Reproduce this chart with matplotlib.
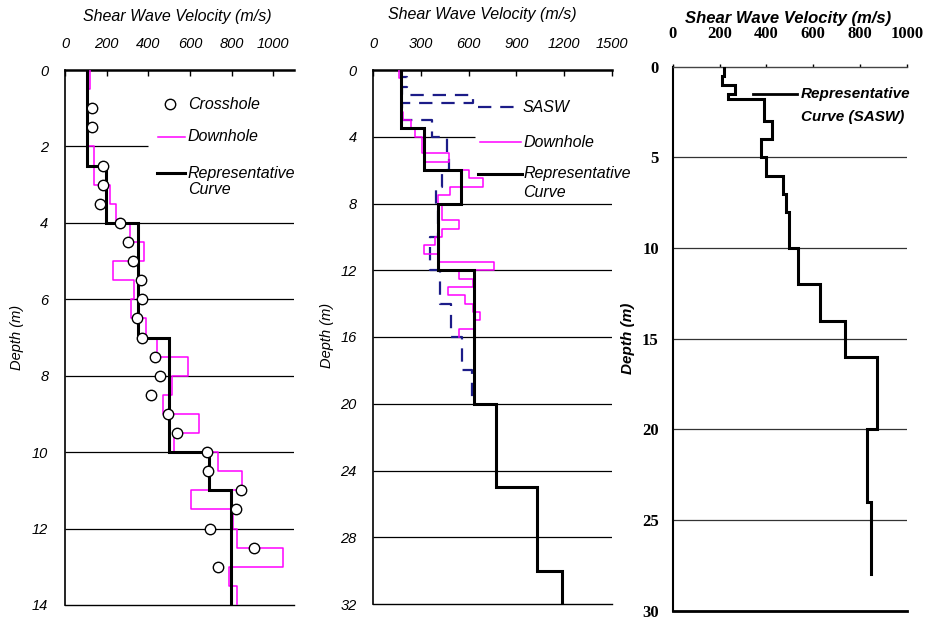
import matplotlib
matplotlib.use("Agg")
import matplotlib.pyplot as plt

plt.rcParams['font.family'] = ['Liberation Sans', 'DejaVu Sans']

# ---------------- data ----------------
# Site 1: crosshole / downhole / representative profile (depth in m, Vs in m/s)
p1_rep_depths = [0, 2.5, 4, 7, 10, 11, 14]
p1_rep_vs = [105, 195, 350, 500, 690, 795]

p1_down_depths = [0, 0.5, 2, 3, 3.5, 4, 4.5, 5, 5.5, 6, 6.5, 7, 7.5, 8, 8.5,
                  9, 9.5, 10, 10.5, 11, 11.5, 12, 12.5, 13, 13.5, 14]
p1_down_vs = [120, 105, 140, 216, 245, 310, 380, 230, 330, 315, 390, 443, 592,
              512, 472, 643, 523, 736, 851, 603, 808, 827, 1048, 785, 824]

p1_cross_depth = [1, 1.5, 2.5, 3, 3.5, 4, 4.5, 5, 5.5, 6, 6.5, 7, 7.5, 8, 8.5,
                  9, 9.5, 10, 10.5, 11, 11.5, 12, 12.5, 13]
p1_cross_vs = [128, 128, 181, 184, 168, 264, 304, 325, 363, 368, 347, 368, 432,
               456, 411, 496, 536, 683, 688, 843, 819, 696, 909, 736]

# Site 2: SASW / downhole / representative profile
p2_rep_depths = [0, 3.5, 6, 8, 12, 20, 25, 30, 32]
p2_rep_vs = [172, 320, 552, 409, 636, 772, 1028, 1190]

p2_down_depths = [0, 0.5, 2.5, 3, 3.5, 4, 5, 5.5, 6, 6.5, 7, 7.5, 8, 9, 9.5,
                  10, 10.5, 11, 11.5, 12, 12.5, 13, 13.5, 14, 14.5, 15, 15.5, 16]
p2_down_vs = [164, 172, 189, 235, 262, 304, 476, 325, 604, 692, 483, 409, 430,
              541, 430, 388, 319, 409, 760, 541, 629, 472, 577, 629, 671, 640, 541]

p2_sasw_depths = [0, 0.4, 1, 1.5, 2, 3, 4, 5, 6, 7, 8, 10, 12, 14, 16, 18, 20]
p2_sasw_vs = [172, 214, 180, 630, 180, 367, 462, 476, 430, 393, 409, 355, 420,
              487, 556, 623]

# Site 3: SASW representative profile
p3_rep_depths = [0, 0.5, 1.0, 1.5, 1.8, 3, 4, 5, 6, 7, 8, 10, 12, 14, 16, 20, 24, 28]
p3_rep_vs = [218, 209, 266, 238, 390, 426, 376, 399, 473, 483, 497, 537, 630,
             736, 872, 829, 846]

title_text = "Shear Wave Velocity (m/s)"
depth_label = "Depth (m)"

MAGENTA = "#ff00ff"
NAVY = "#1c1c88"

# ---------------- helpers ----------------
W, H = 928, 621
fig = plt.figure(figsize=(W / 100, H / 100), dpi=100)


def axes_px(left, right, top, bottom):
    return fig.add_axes([left / W, 1 - bottom / H, (right - left) / W, (bottom - top) / H])


def layered(depths, vs):
    """Turn layer boundaries and layer velocities into a step outline."""
    xs, ys = [], []
    for i, v in enumerate(vs):
        xs += [v, v]
        ys += [depths[i], depths[i + 1]]
    return xs, ys


def base_axes(ax, xmax, xticks, dmax, yticks, label_font, top_dir, top_len, xpad, ypad):
    ax.set_xlim(0, xmax)
    ax.set_ylim(dmax, 0)
    ax.xaxis.tick_top()
    ax.set_xticks(xticks)
    ax.set_yticks(yticks)
    ax.set_xticklabels([str(t) for t in xticks], **label_font)
    ax.set_yticklabels([str(t) for t in yticks], **label_font)
    ax.tick_params(axis='x', direction=top_dir, length=top_len, width=1, pad=xpad,
                   colors='black')
    ax.tick_params(axis='y', length=0, pad=ypad)
    ax.spines['right'].set_visible(False)
    for s in ax.spines.values():
        s.set_color('black')
    ax.patch.set_alpha(0)


ital = dict(fontsize=10.5, style='italic', family='Liberation Sans')

# ---------------- panel 1 ----------------
ax1 = axes_px(65, 294.2, 70, 605)
base_axes(ax1, 1100, [0, 200, 400, 600, 800, 1000], 14, list(range(0, 15, 2)),
          ital, 'in', 4, 14, 12)
ax1.spines['top'].set_linewidth(1.8)
ax1.spines['left'].set_linewidth(1.2)
ax1.spines['bottom'].set_linewidth(1.0)
ax1.hlines([4, 6, 8, 10, 12], 0, 1100, color='black', lw=0.9)
ax1.hlines(2, 0, 400, color='black', lw=0.9)

x, y = layered(p1_down_depths, p1_down_vs)
ax1.plot(x, y, color=MAGENTA, lw=1.1, zorder=3)
x, y = layered(p1_rep_depths, p1_rep_vs)
ax1.plot(x, y, color='black', lw=2.2, zorder=4, solid_joinstyle='miter')
ax1.plot(p1_cross_vs, p1_cross_depth, 'o', ms=7.5, mfc='white', mec='black', mew=1.0,
         zorder=5, ls='none')

leg = dict(fontsize=11.5, style='italic', va='center', ha='left')
ax1.plot([504], [0.89], 'o', ms=7.5, mfc='white', mec='black', mew=1.0, clip_on=False)
ax1.text(590, 0.89, "Crosshole", **leg)
ax1.plot([446, 576], [1.75, 1.75], color=MAGENTA, lw=1.1)
ax1.text(590, 1.75, "Downhole", **leg)
ax1.plot([442, 576], [2.70, 2.70], color='black', lw=2.2)
ax1.text(590, 2.70, "Representative", **leg)
ax1.text(590, 3.14, "Curve", **leg)

fig.text(177 / W, 1 - 17 / H, title_text, fontsize=11.5, style='italic', ha='center', va='center')
fig.text(17 / W, 1 - 337 / H, depth_label, fontsize=10.5, style='italic', rotation=90,
         ha='center', va='center')

# ---------------- panel 2 ----------------
ax2 = axes_px(373.3, 611.7, 70, 604)
base_axes(ax2, 1500, [0, 300, 600, 900, 1200, 1500], 32, list(range(0, 33, 4)),
          ital, 'in', 4, 14, 12)
ax2.spines['top'].set_linewidth(1.8)
ax2.spines['left'].set_linewidth(1.2)
ax2.spines['bottom'].set_linewidth(1.0)
ax2.hlines([8, 12, 16, 20, 24, 28], 0, 1500, color='black', lw=0.9)
ax2.hlines(4, 0, 640, color='black', lw=0.9)

x, y = layered(p2_sasw_depths, p2_sasw_vs)
ax2.plot(x, y, color=NAVY, lw=1.6, ls=(0, (6, 4)), zorder=3)
x, y = layered(p2_down_depths, p2_down_vs)
ax2.plot(x, y, color=MAGENTA, lw=1.1, zorder=3)
x, y = layered(p2_rep_depths, p2_rep_vs)
ax2.plot(x, y, color='black', lw=2.2, zorder=4, solid_joinstyle='miter')

ax2.plot([659, 891], [2.23, 2.23], color=NAVY, lw=1.6, ls=(0, (6, 4)))
ax2.text(942, 2.23, "SASW", **leg)
ax2.plot([671, 929], [4.33, 4.33], color=MAGENTA, lw=1.1)
ax2.text(942, 4.33, "Downhole", **leg)
ax2.plot([659, 936], [6.23, 6.23], color='black', lw=2.2)
ax2.text(942, 6.23, "Representative", **leg)
ax2.text(942, 7.37, "Curve", **leg)

fig.text(482 / W, 1 - 15 / H, title_text, fontsize=11.5, style='italic', ha='center', va='center')
fig.text(327 / W, 1 - 335 / H, depth_label, fontsize=10.5, style='italic', rotation=90,
         ha='center', va='center')

# ---------------- panel 3 ----------------
bold_serif = dict(fontsize=12, weight='bold', family='Liberation Serif')
ax3 = axes_px(672.7, 906.7, 66.7, 610.7)
base_axes(ax3, 1000, [0, 200, 400, 600, 800, 1000], 30, list(range(0, 31, 5)),
          bold_serif, 'out', 2.5, 15, 10)
ax3.spines['top'].set_linewidth(1.0)
ax3.spines['top'].set_color('#444444')
ax3.spines['left'].set_linewidth(1.5)
ax3.spines['bottom'].set_linewidth(2.0)
ax3.hlines([5, 10, 15, 20, 25], 0, 1000, color='#333333', lw=0.9)

x, y = layered(p3_rep_depths, p3_rep_vs)
ax3.plot(x, y, color='black', lw=2.2, zorder=4, solid_joinstyle='miter')

ax3.plot([343, 531], [1.52, 1.52], color='black', lw=2.0)
leg3 = dict(fontsize=11, style='italic', weight='bold', va='center', ha='left')
ax3.text(548, 1.52, "Representative", **leg3)
ax3.text(548, 2.77, "Curve (SASW)", **leg3)

fig.text(788 / W, 1 - 18 / H, title_text, fontsize=12, style='italic', weight='bold',
         ha='center', va='center')
fig.text(628 / W, 1 - 338 / H, depth_label, fontsize=11, style='italic', weight='bold',
         rotation=90, ha='center', va='center')

fig.savefig("out.png", dpi=100)
